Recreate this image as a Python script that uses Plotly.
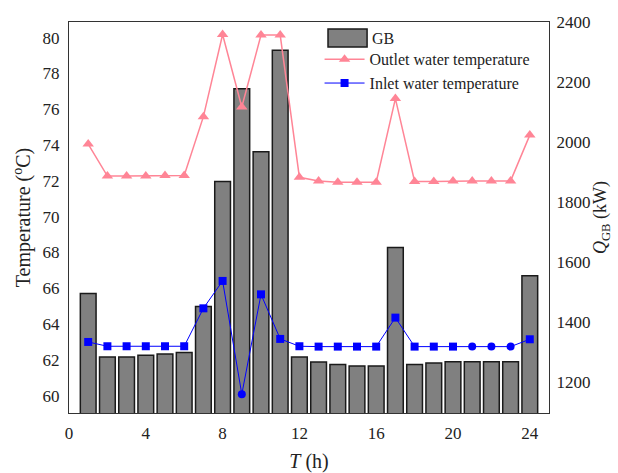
import plotly.graph_objects as go

hours = list(range(1, 25))
gb_kw = [1495, 1283, 1283, 1289, 1293, 1298, 1451, 1868, 2178, 1968, 2306, 1283,
         1266, 1258, 1253, 1253, 1648, 1258, 1263, 1267, 1267, 1267, 1267, 1554]
outlet_t = [74.06, 72.27, 72.27, 72.27, 72.3, 72.3, 75.59, 80.18, 76.13, 80.15, 80.15, 72.2,
            72.0, 71.93, 71.93, 71.93, 76.6, 71.97, 71.97, 72.0, 72.0, 72.0, 72.0, 74.56]
inlet_t = [63.0, 62.76, 62.76, 62.76, 62.76, 62.76, 64.88, 66.41, 60.08, 65.66, 63.17, 62.76,
           62.74, 62.74, 62.74, 62.74, 64.36, 62.74, 62.74, 62.74, 62.74, 62.74, 62.74, 63.15]
x_ticks = [0, 4, 8, 12, 16, 20, 24]
left_ticks = [60, 62, 64, 66, 68, 70, 72, 74, 76, 78, 80]
right_ticks = [1200, 1400, 1600, 1800, 2000, 2200, 2400]

FONT = "Liberation Serif, Times New Roman, serif"
TXT = "#222"
inlet_symbols = ["square"] * 24
for h in (9, 21, 22, 23):
    inlet_symbols[h - 1] = "circle"

fig = go.Figure()
# Bars on the base (right-side) axis so that the lines on the overlaying axis are drawn on top
fig.add_trace(go.Bar(
    x=hours, y=gb_kw, name="GB", yaxis="y", width=0.82, showlegend=False,
    marker=dict(color="#808080", line=dict(color="#1a1a1a", width=1.5)),
))
fig.add_trace(go.Scatter(
    x=hours, y=outlet_t, name="Outlet water temperature", mode="lines+markers", yaxis="y2",
    line=dict(color="#ff8596", width=1.5),
    marker=dict(symbol="triangle-up", size=10, color="#ff8596"),
))
fig.add_trace(go.Scatter(
    x=hours, y=inlet_t, name="Inlet water temperature", mode="lines+markers", yaxis="y2",
    line=dict(color="#0000ff", width=1),
    marker=dict(symbol=inlet_symbols, size=8, color="#0000ff"),
))

tickfont = dict(family=FONT, size=17, color=TXT)
titlefont = dict(family=FONT, size=20, color=TXT)
fig.update_layout(
    width=618, height=473,
    margin=dict(l=69, r=69, t=22, b=60, autoexpand=False),
    paper_bgcolor="white", plot_bgcolor="white",
    font=dict(family=FONT, size=16, color=TXT),
    xaxis=dict(range=[0, 25], tickvals=x_ticks, showline=True, mirror=True, showgrid=False,
               zeroline=False, linecolor="#333", linewidth=1, automargin=False,
               ticks="outside", ticklen=5, tickcolor="rgba(0,0,0,0)", tickfont=tickfont,
               title=dict(text="<i>T</i> (h)", font=titlefont, standoff=11)),
    yaxis=dict(range=[1096, 2400.5], tickvals=right_ticks, side="right", showline=True,
               showgrid=False, zeroline=False, linecolor="#333", linewidth=1, automargin=False,
               ticks="outside", ticklen=3, tickcolor="rgba(0,0,0,0)", tickfont=tickfont,
               title=dict(text="<i>Q</i><sub>GB</sub> (kW)", font=dict(family=FONT, size=18, color=TXT),
                          standoff=0)),
    yaxis2=dict(range=[59.03, 80.88], tickvals=left_ticks, overlaying="y", side="left",
                showline=True, showgrid=False, zeroline=False, linecolor="#333", linewidth=1,
                automargin=False,
                ticks="outside", ticklen=5, tickcolor="rgba(0,0,0,0)", tickfont=tickfont,
                title=dict(text="Temperature (<sup>o</sup>C)", font=titlefont, standoff=6)),
    legend=dict(x=0.522, y=0.948, xanchor="left", yanchor="top", bgcolor="rgba(0,0,0,0)",
                font=dict(family=FONT, size=16, color=TXT), traceorder="normal",
                itemwidth=40, tracegroupgap=0),
    showlegend=True,
    shapes=[dict(type="rect", xref="paper", yref="paper",
                 x0=0.5396, x1=0.621, y0=0.9361, y1=0.982,
                 fillcolor="#808080", line=dict(color="#1a1a1a", width=1.5))],
    annotations=[dict(text="GB", xref="paper", yref="paper", x=0.627, y=0.959,
                      xanchor="left", yanchor="middle", showarrow=False,
                      font=dict(family=FONT, size=16, color=TXT))],
)
fig.write_html("out.html")
